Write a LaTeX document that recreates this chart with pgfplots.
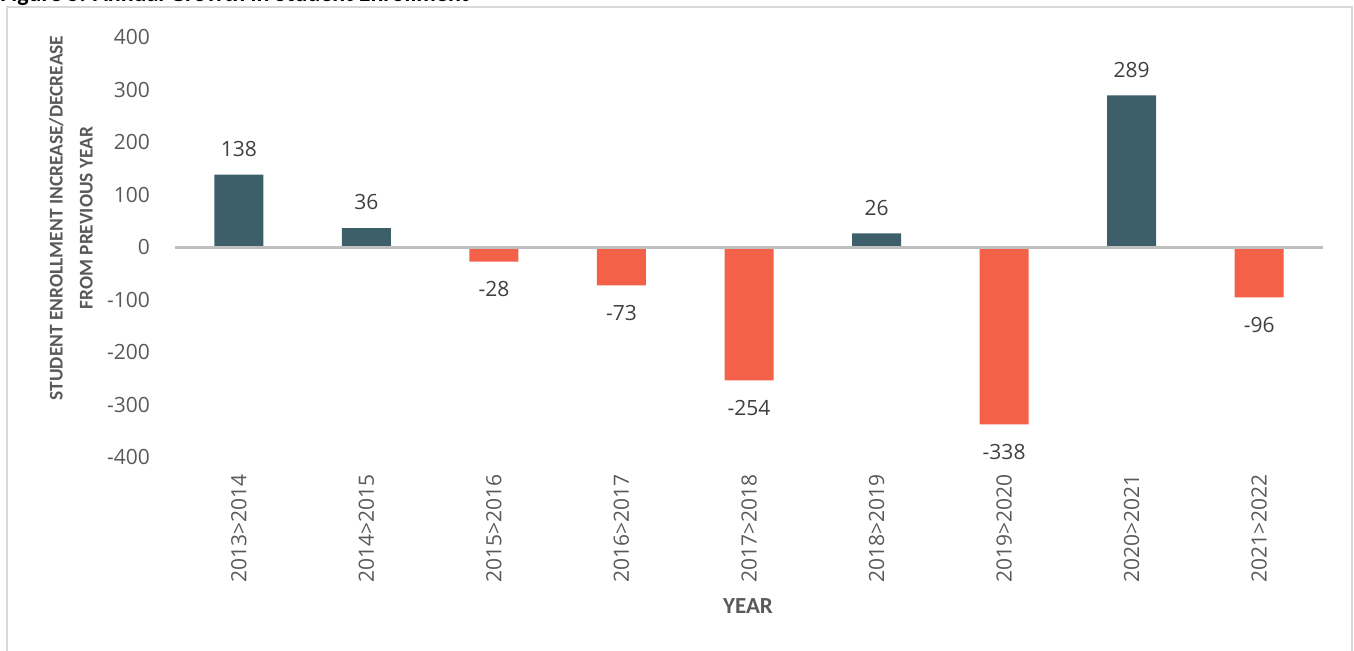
\documentclass[border=0pt]{standalone}
\usepackage{pgfplots}
\pgfplotsset{compat=1.18}
\usepackage{fontspec}
\setmainfont{Open Sans}
\newfontfamily\carlito{Carlito}
\definecolor{teal}{HTML}{3C5F69}
\definecolor{coral}{HTML}{F26148}
\definecolor{ticktxt}{HTML}{595959}
\definecolor{lbltxt}{HTML}{404040}
\definecolor{frame}{HTML}{D9D9D9}
\definecolor{zeroline}{HTML}{BFBFBF}
\begin{document}
\begin{tikzpicture}
\draw[frame, line width=0.9pt] (3.5pt,-10pt) -- (3.5pt,321.5pt) -- (676pt,321.5pt) -- (676pt,-10pt);
\node[anchor=base west, inner sep=0pt, font=\carlito\bfseries\fontsize{12}{14}\selectfont] at (0pt,324.2pt) {Figure 5: Annual Growth in Student Enrollment};
\begin{axis}[
  at={(87.5pt,96.5pt)}, anchor=south west,
  scale only axis, width=574pt, height=210pt,
  xmin=-0.5, xmax=8.5, ymin=-400, ymax=400,
  ytick={-400,-300,...,400},
  xtick={0,...,8},
  xticklabels={2013>2014,2014>2015,2015>2016,2016>2017,2017>2018,2018>2019,2019>2020,2020>2021,2021>2022},
  axis line style={draw=none},
  major tick length=0pt,
  /pgf/number format/assume math mode=true,
  ticklabel style={font=\fontsize{10.5}{12}\selectfont, text=ticktxt},
  yticklabel style={xshift=-9pt},
  xticklabel style={rotate=90, anchor=east, xshift=-5pt},
  ybar, bar width=24.5pt, bar shift=0pt,
  clip=false,
  nodes near coords,
  every node near coord/.append style={font=\fontsize{10.5}{12}\selectfont, text=lbltxt},
]
\addplot[fill=teal, draw=none, every node near coord/.append style={yshift=5.5pt}] coordinates {(0,138) (1,36) (5,26) (7,289)};
\addplot[fill=coral, draw=none, every node near coord/.append style={yshift=-6.5pt}] coordinates {(2,-28) (3,-73) (4,-254) (6,-338) (8,-96)};
\draw[zeroline, line width=1.5pt] (axis cs:-0.5,0) -- (axis cs:8.5,0);
\end{axis}
\node[font=\carlito\bfseries\fontsize{11.5}{14}\selectfont, text=ticktxt] at (374pt,22pt) {YEAR};
\node[rotate=90, align=center, font=\carlito\bfseries\fontsize{9.7}{15}\selectfont, text=ticktxt] at (35.5pt,216pt) {STUDENT ENROLLMENT INCREASE/DECREASE\\FROM PREVIOUS YEAR};
\pgfresetboundingbox
\useasboundingbox (0,0) rectangle (677pt,325pt);
\end{tikzpicture}
\end{document}
